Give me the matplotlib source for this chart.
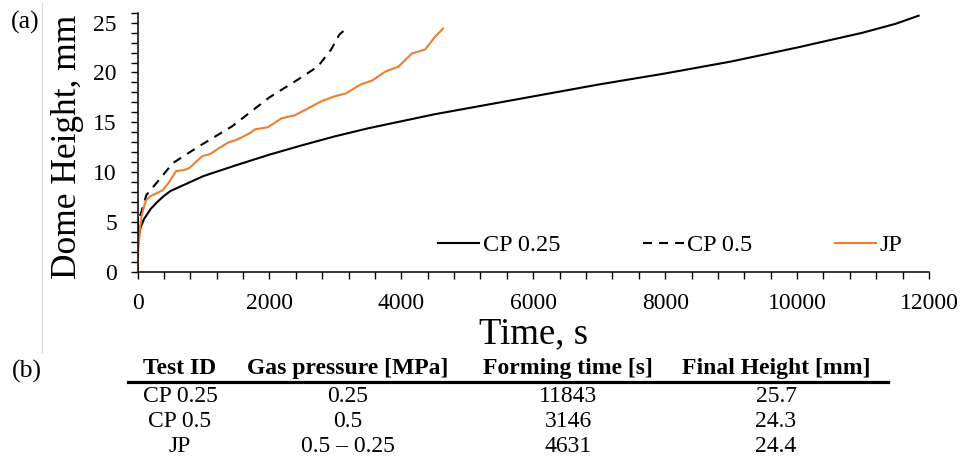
import matplotlib
matplotlib.use("Agg")
import matplotlib.pyplot as plt
from matplotlib.lines import Line2D
from matplotlib.ticker import MultipleLocator

plt.rcParams['font.family'] = ['Liberation Serif', 'DejaVu Serif']

# ---- data ----
cp025_t = [0, 5, 10, 20, 30, 50, 100, 200, 300, 400, 500, 600, 800, 1000, 1500,
           2000, 2500, 3000, 3500, 4000, 4500, 5000, 6000, 7000, 8000, 9000,
           10000, 11000, 11500, 11843]
cp025_h = [0, 5.4, 2.8, 3.4, 3.9, 4.5, 5.3, 6.3, 7.0, 7.6, 8.1, 8.4, 9.0, 9.6, 10.7,
           11.75, 12.7, 13.6, 14.4, 15.1, 15.8, 16.4, 17.6, 18.8, 19.9, 21.1,
           22.5, 24.0, 24.9, 25.7]

cp05_t = [40, 135, 300, 535, 935, 1435, 2000, 2435, 2735, 2935, 3060, 3146]
cp05_h = [5.6, 7.7, 9.0, 10.9, 12.6, 14.6, 17.5, 19.3, 20.6, 22.3, 23.8, 24.3]

jp_t = [0, 15, 35, 60, 85, 110, 135, 200, 300, 385, 480, 585, 700, 785, 900, 985,
        1100, 1235, 1385, 1485, 1585, 1700, 1785, 1975, 2185, 2385, 2585, 2785,
        2985, 3160, 3385, 3560, 3760, 3960, 4160, 4360, 4500, 4631]
jp_h = [0, 2.5, 4.2, 5.5, 6.2, 6.8, 7.2, 7.6, 7.9, 8.2, 9.0, 10.1, 10.2, 10.4, 11.1,
        11.6, 11.8, 12.4, 13.0, 13.2, 13.5, 13.9, 14.3, 14.5, 15.4, 15.7, 16.4,
        17.1, 17.6, 17.9, 18.8, 19.2, 20.1, 20.6, 21.9, 22.3, 23.5, 24.4]

series_labels = ["CP 0.25", "CP 0.5", "JP"]

table_header = ["Test ID", "Gas pressure [MPa]", "Forming time [s]", "Final Height [mm]"]
table_rows = [["CP 0.25", "0.25", "11843", "25.7"],
              ["CP 0.5", "0.5", "3146", "24.3"],
              ["JP", "0.5 \u2013 0.25", "4631", "24.4"]]

W, H = 963, 468
fig = plt.figure(figsize=(W / 100, H / 100), dpi=100)

def fx(px):
    return px / W

def fy(py):
    return 1 - py / H

ax = fig.add_axes([fx(137.5), fy(271.7), (929 - 137.5) / W, (271.7 - 12.7) / H])

orange = "#ED7D31"
ax.plot(cp025_t, cp025_h, color="black", lw=1.5, label=series_labels[0])
ax.plot(cp05_t, cp05_h, color="black", lw=1.5, linestyle=(0, (4.3, 3.4)),
        label=series_labels[1])
ax.plot(jp_t, jp_h, color=orange, lw=1.5, label=series_labels[2])

ax.set_xlim(0, 12000)
ax.set_ylim(0, 26)
ax.xaxis.set_major_locator(MultipleLocator(2000))
ax.xaxis.set_minor_locator(MultipleLocator(400))
ax.yaxis.set_major_locator(MultipleLocator(5))
ax.yaxis.set_minor_locator(MultipleLocator(1))
for s in ("top", "right"):
    ax.spines[s].set_visible(False)
for s in ("left", "bottom"):
    ax.spines[s].set_linewidth(1.1)
ax.tick_params(which="both", direction="out", length=4.8, width=1.0, color="black")
ax.tick_params(axis="x", which="major", labelsize=17, pad=10.5)
ax.tick_params(axis="y", which="major", labelsize=17, pad=10.0)

leg = ax.legend(loc="center left", bbox_to_anchor=(0.3797, 0.103), ncol=3,
                frameon=False, fontsize=17.5, handlelength=1.7, handletextpad=0.13,
                columnspacing=3.4, borderaxespad=0, borderpad=0)

fig.text(fx(68), fy(147), "Dome Height, mm", rotation=90, ha="center", va="center",
         fontsize=25.5)
fig.text(fx(534), fy(343), "Time, s", ha="center", va="baseline", fontsize=26.5)

fig.text(fx(25), fy(22), "(a)", ha="center", va="center", fontsize=18.5)
fig.text(fx(27), fy(371), "(b)", ha="center", va="center", fontsize=18.5)

# thin separator line at left
fig.add_artist(Line2D([fx(41.5), fx(41.5)], [fy(3), fy(352)], color="#d9d9d9", lw=0.8))

# table
col_x = [180, 348, 568, 776]
fig.add_artist(Line2D([fx(128), fx(888)], [fy(382), fy(382)], color="black", lw=2.3))
for cx, txt in zip(col_x, table_header):
    fig.text(fx(cx), fy(374), txt, ha="center", va="baseline", fontsize=17,
             fontweight="bold")
row_base = [402.5, 427, 451.5]
for by, row in zip(row_base, table_rows):
    for cx, txt in zip(col_x, row):
        fig.text(fx(cx), fy(by), txt, ha="center", va="baseline", fontsize=17)

fig.savefig("out.png", dpi=100)
